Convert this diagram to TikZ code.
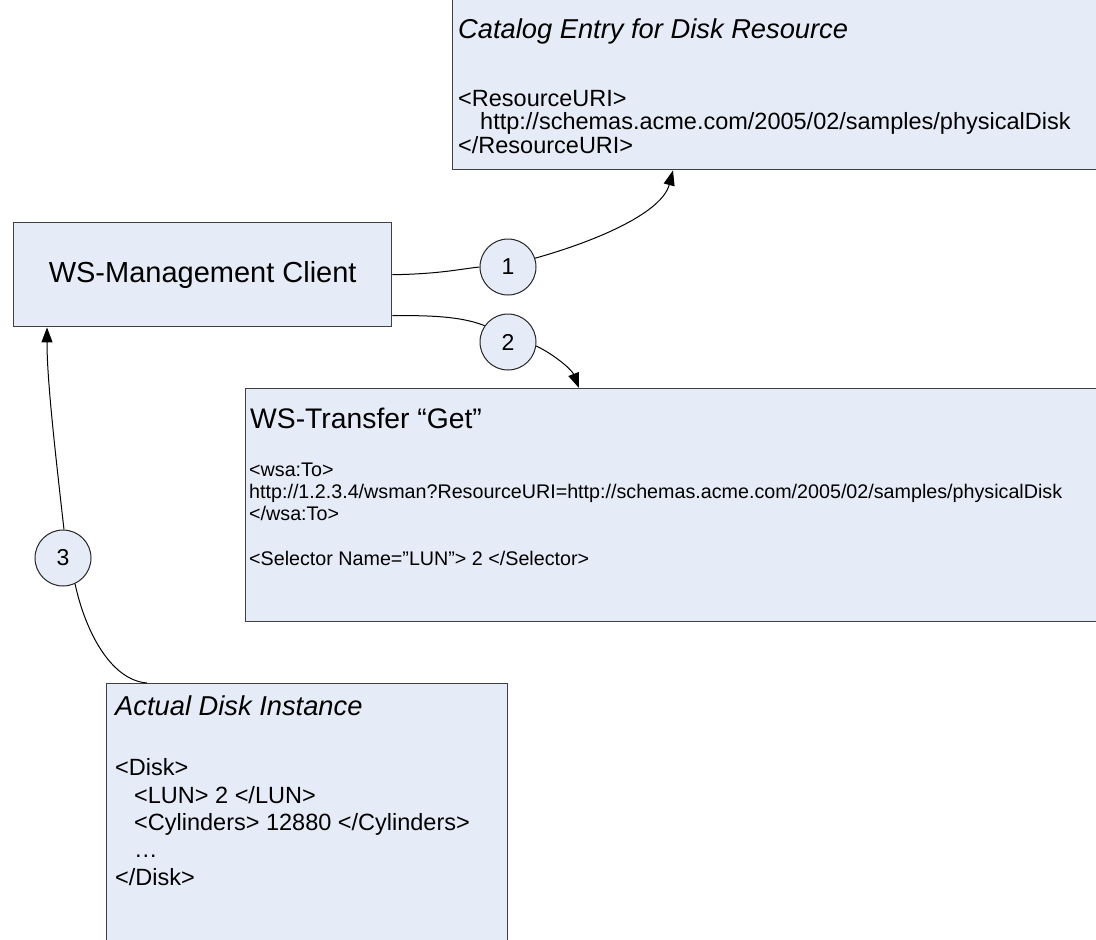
\documentclass[tikz,border=0pt]{standalone}
\usepackage{fontspec}
\setmainfont{Liberation Sans}
\usetikzlibrary{arrows.meta}
\definecolor{boxfill}{RGB}{230,236,247}
\definecolor{boxline}{RGB}{64,64,64}
\tikzset{
  panel/.style={draw=boxline, line width=1.4pt, fill=boxfill, rectangle, inner sep=0pt, anchor=north west},
  num/.style={draw=black!85, line width=1pt, fill=boxfill, circle, minimum size=56pt, inner sep=0pt, font=\fontsize{23}{23}\selectfont},
  txt/.style={inner sep=0pt, anchor=base west},
  ttl/.style={txt, font=\fontsize{27.3}{27.3}\selectfont\itshape},
  big/.style={txt, font=\fontsize{28.3}{28.3}\selectfont},
  body/.style={txt, font=\fontsize{23.5}{23.5}\selectfont},
  small/.style={txt, font=\fontsize{19.7}{19.7}\selectfont},
  conn/.style={line width=1pt, draw=black},
  tip/.style={-{Triangle[length=15pt,width=11pt]}}
}
\begin{document}
\begin{tikzpicture}[x=1pt,y=-1pt]
\clip (0,0) rectangle (1096,940);
\fill[white] (0,0) rectangle (1096,940);

% boxes
\node[panel, minimum width=660pt, minimum height=175pt] (cat) at (452,-6) {};
\node[panel, minimum width=378pt, minimum height=104pt, font=\fontsize{29}{29}\selectfont] (client) at (13,222) {WS-Management Client};
\node[panel, minimum width=866pt, minimum height=233pt] (ws) at (245,388) {};
\node[panel, minimum width=401pt, minimum height=270pt] (disk) at (106,683) {};

% catalog text
\node[ttl] (catT) at (458,38) {Catalog Entry for Disk Resource};
\node[body] (catA) at (458,106) {<ResourceURI>};
\node[body] (catB) at (480,129) {http://schemas.acme.com/2005/02/samples/physicalDisk};
\node[body] (catC) at (458,153) {</ResourceURI>};

% ws-transfer text
\node[big] (wsT) at (250,428) {WS-Transfer “Get”};
\node[small] (wsA) at (249,476) {<wsa:To>};
\node[small] (wsB) at (249,498) {http://1.2.3.4/wsman?ResourceURI=http://schemas.acme.com/2005/02/samples/physicalDisk};
\node[small] (wsC) at (249,520) {</wsa:To>};
\node[small] (wsD) at (249,565) {<Selector Name=”LUN”> 2 </Selector>};

% disk text
\node[ttl] (dkT) at (115,715) {Actual Disk Instance};
\node[body] (dkA) at (115,775) {<Disk>};
\node[body] (dkB) at (134,803) {<LUN> 2 </LUN>};
\node[body] (dkC) at (134,830) {<Cylinders> 12880 </Cylinders>};
\node[body] (dkD) at (134,857) {…};
\node[body] (dkE) at (115,885) {</Disk>};

% numbered circles
\node[num] (c1) at (508,267) {1};
\node[num] (c2) at (508,342) {2};
\node[num] (c3) at (63,558) {3};

% connectors
\coordinate (t1) at ([xshift=221pt]cat.south west);
\coordinate (s2) at ([yshift=-41pt]client.east);
\coordinate (t2) at ([xshift=334pt]ws.north west);
\coordinate (s3) at ([xshift=41pt]disk.north west);
\coordinate (t3) at ([xshift=34pt]client.south west);

\draw[conn] (client.east) .. controls (440,274) and (460,269) .. (c1.west);
\draw[conn,tip] (c1.18) .. controls (600,240) and (662,212) .. (t1);
\draw[conn] (s2) .. controls (440,315) and (465,318) .. (c2.145);
\draw[conn,tip] (c2.-8) .. controls (555,355) and (572,370) .. (t2);
\draw[conn] (s3) .. controls (110,680) and (85,630) .. (c3.-65);
\draw[conn,tip] (c3.88) .. controls (55,450) and (47,380) .. (t3);
\end{tikzpicture}
\end{document}
